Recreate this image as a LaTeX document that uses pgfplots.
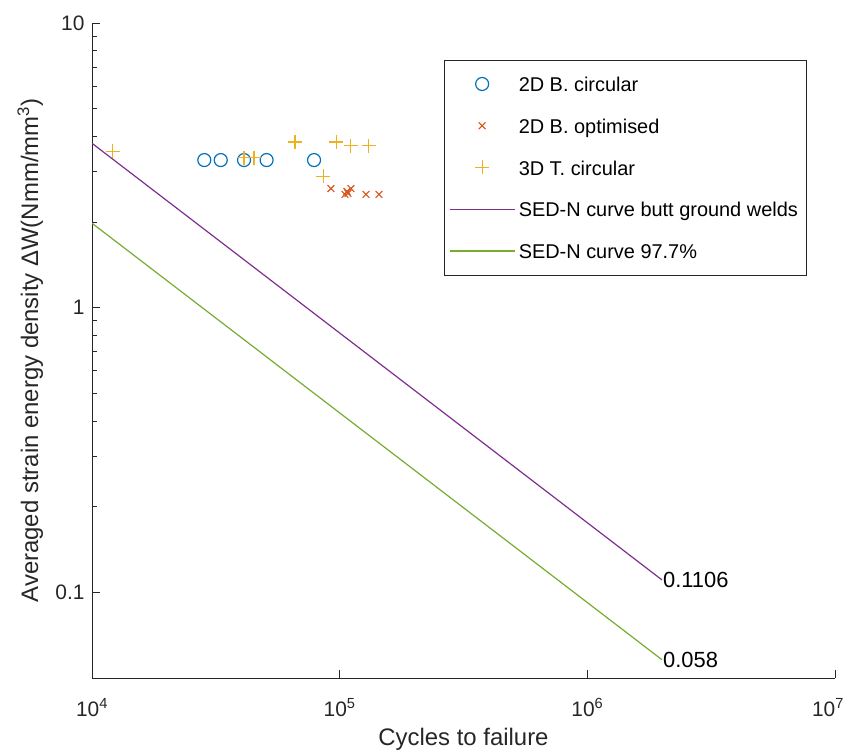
\documentclass[border=0pt]{standalone}
\usepackage{pgfplots}
\pgfplotsset{compat=1.18}
\usepackage{fontspec}
\setmainfont{Liberation Sans}
\definecolor{mblue}{rgb}{0,0.447,0.741}
\definecolor{mred}{rgb}{0.85,0.325,0.098}
\definecolor{myellow}{rgb}{0.929,0.694,0.125}
\definecolor{mpurple}{rgb}{0.494,0.184,0.556}
\definecolor{mgreen}{rgb}{0.466,0.674,0.188}
\definecolor{axgray}{rgb}{0.15,0.15,0.15}

\begin{document}
\begin{tikzpicture}
\useasboundingbox (-92bp,-73bp) rectangle (753bp,678bp);
\begin{axis}[
    scale only axis,
    width=743bp, height=655bp,
    xmode=log, ymode=log,
    xmin=1e4, xmax=1e7, ymin=0.05, ymax=10,
    axis x line*=bottom, axis y line*=left,
    axis line style={-, draw=axgray, line width=0.8bp},
    tick align=inside,
    major tick length=8bp, minor tick length=4.5bp,
    tick style={axgray, line width=0.8bp},
    xtick={1e4,1e5,1e6},
    xticklabels={10\textsuperscript{4},10\textsuperscript{5},10\textsuperscript{6}},
    extra x ticks={1e7},
    extra x tick labels={10\textsuperscript{7}},
    extra x tick style={xticklabel style={xshift=-7bp}},
    xminorticks=false,
    ytick={0.1,1,10}, yticklabels={0.1,1,10},
    tick label style={font=\fontsize{21}{24}\selectfont, text=axgray},
    xticklabel style={yshift=-17bp},
    yticklabel style={xshift=-4bp},
    label style={font=\fontsize{24}{28}\selectfont, text=axgray},
    xlabel={Cycles to failure},
    ylabel={Averaged strain energy density ΔW(Nmm/mm\textsuperscript{3})},
    xlabel style={at={(axis description cs:0.5,0)}, anchor=center, yshift=-61bp},
    ylabel style={at={(axis description cs:-0.083,0.5)}, anchor=center},
    legend style={at={(0.961,0.944)}, anchor=north east, draw=axgray,
        font=\fontsize{20}{24}\selectfont, row sep=17.5bp,
        inner xsep=5bp, inner ysep=12bp, nodes={inner sep=3bp}, cells={anchor=west}},
    legend image code/.code={\draw[mark repeat=2,mark phase=2,#1] plot coordinates {(0bp,0bp) (32bp,0bp) (65bp,0bp)};},
]
\addplot[only marks, mark=o, mark size=6.5bp, mblue, line width=1.2bp] coordinates {
  (28400,3.30) (33100,3.30) (41100,3.30) (50700,3.30) (78800,3.30)
};
\addlegendentry{\strut 2D B. circular}
\addplot[only marks, mark=x, mark size=4.8bp, mred, line width=1.1bp] coordinates {
  (92200,2.62) (105000,2.50) (107000,2.56) (111000,2.62) (108000,2.52) (127700,2.50) (144100,2.50)
};
\addlegendentry{\strut 2D B. optimised}
\addplot[only marks, mark=+, mark size=7bp, myellow, line width=1.1bp] coordinates {
  (12100,3.54) (41100,3.36) (45100,3.36) (66000,3.82) (85900,2.89) (96700,3.82) (110800,3.70) (130900,3.70)
};
\addlegendentry{\strut 3D T. circular}
\addplot[mpurple, line width=1.2bp] coordinates {(1e4,3.78) (2e6,0.1106)};
\addlegendentry{\strut SED-N curve butt ground welds}
\addplot[mgreen, line width=1.2bp] coordinates {(1e4,1.98) (2e6,0.058)};
\addlegendentry{\strut SED-N curve 97.7\%}
\node[anchor=west, inner sep=1bp, font=\fontsize{22}{26}\selectfont, text=black] at (axis cs:2e6,0.1106) {0.1106};
\node[anchor=west, inner sep=1bp, font=\fontsize{22}{26}\selectfont, text=black] at (axis cs:2e6,0.058) {0.058};
\end{axis}
\end{tikzpicture}
\end{document}
